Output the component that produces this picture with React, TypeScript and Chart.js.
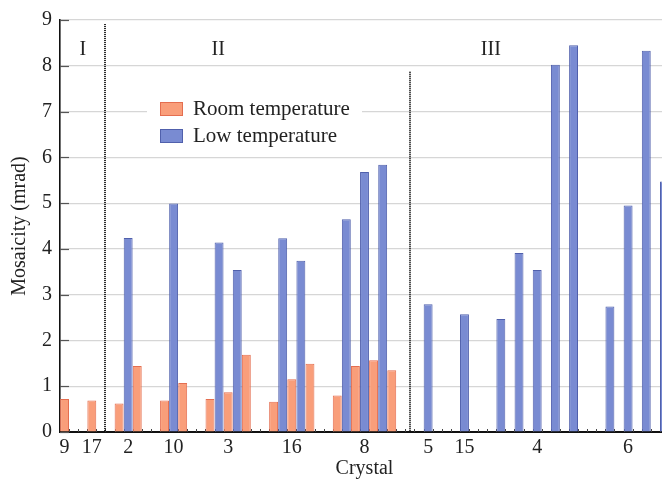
import React, { useEffect, useRef } from 'react';
import { Chart, registerables } from 'chart.js';

Chart.register(...registerables);

const _ = null;

// one slot per bar position along the crystal axis
const slotLabels = [
  '9', '', '', '17', '', '', '', '2', '', '',
  '', '', '10', '', '', '', '', '', '3', '',
  '', '', '', '', '', '16', '', '', '', '',
  '', '', '', '8', '', '', '', '', '', '',
  '5', '', '', '', '15', '', '', '', '', '',
  '', '', '4', '', '', '', '', '', '', '',
  '', '', '6', '', '', '', '',
];

const roomTemperature = [
  0.72, _, _, 0.69, _, _, 0.62, _, 1.44, _,
  _, 0.69, _, 1.07, _, _, 0.72, _, 0.87, _,
  1.69, _, _, 0.66, _, 1.15, _, 1.49, _, _,
  0.80, _, 1.44, _, 1.57, _, 1.35, _, _, _,
  _, _, _, _, _, _, _, _, _, _,
  _, _, _, _, _, _, _, _, _, _,
  _, _, _, _, _, _, _,
];

const lowTemperature = [
  _, _, _, _, _, _, _, 4.24, _, _,
  _, _, 4.99, _, _, _, _, 4.14, _, 3.54,
  _, _, _, _, 4.23, _, 3.74, _, _, _,
  _, 4.65, _, 5.68, _, 5.84, _, _, _, _,
  2.79, _, _, _, 2.57, _, _, _, 2.47, _,
  3.91, _, 3.54, _, 8.02, _, 8.45, _, _, _,
  2.74, _, 4.95, _, 8.33, _, 5.47,
];

const seriesNames = ['Room temperature', 'Low temperature'];
const regionNames = ['I', 'II', 'III'];
const regionCenters = [2, 16.9, 46.9];
const regionLabelValue = 8.35;
const dividerSlots = [4.5, 38];
const dividerTops = [8.91, 7.87];

const FONT = "'Liberation Serif', 'Times New Roman', serif";
const ROOM_FILL = 'rgb(249,158,122)';
const ROOM_BORDER = 'rgb(228,110,80)';
const LOW_FILL = 'rgb(121,139,210)';
const LOW_BORDER = 'rgb(80,96,172)';

const overlayPlugin = {
  id: 'overlay',
  beforeDatasetsDraw(chart: any) {
    const ctx = chart.ctx;
    const x = chart.scales.x;
    const y = chart.scales.y;
    const area = chart.chartArea;
    ctx.save();
    // inner tick marks on y axis
    ctx.strokeStyle = '#555';
    ctx.lineWidth = 1.2;
    y.ticks.forEach((t: any) => {
      const py = Math.round(y.getPixelForValue(t.value)) + 0.5;
      ctx.beginPath();
      ctx.moveTo(area.left, py);
      ctx.lineTo(area.left + 9, py);
      ctx.stroke();
    });
    // small tick marks along the x axis
    ctx.strokeStyle = '#444';
    ctx.lineWidth = 1;
    for (let i = 0; i < slotLabels.length; i++) {
      const px = Math.round(x.getPixelForValue(i + 0.5)) + 0.5;
      ctx.beginPath();
      ctx.moveTo(px, area.bottom);
      ctx.lineTo(px, area.bottom - 3);
      ctx.stroke();
    }
    // dotted region dividers
    ctx.strokeStyle = '#111';
    ctx.lineWidth = 2;
    ctx.setLineDash([1, 1]);
    dividerSlots.forEach((s, i) => {
      const px = Math.round(x.getPixelForValue(s));
      ctx.beginPath();
      ctx.moveTo(px, y.getPixelForValue(dividerTops[i]));
      ctx.lineTo(px, y.getPixelForValue(0));
      ctx.stroke();
    });
    ctx.setLineDash([]);
    // region labels
    ctx.fillStyle = '#222';
    ctx.font = `20px ${FONT}`;
    ctx.textAlign = 'center';
    ctx.textBaseline = 'middle';
    regionNames.forEach((n, i) => {
      ctx.fillText(n, x.getPixelForValue(regionCenters[i]), y.getPixelForValue(regionLabelValue));
    });
    // legend
    ctx.fillStyle = '#fff';
    ctx.fillRect(147, 95, 215, 53);
    const fills = [ROOM_FILL, LOW_FILL];
    const borders = [ROOM_BORDER, LOW_BORDER];
    seriesNames.forEach((name, i) => {
      const by = 102 + i * 27;
      ctx.fillStyle = fills[i];
      ctx.fillRect(160, by, 23, 14);
      ctx.strokeStyle = borders[i];
      ctx.lineWidth = 1;
      ctx.strokeRect(160.5, by + 0.5, 22, 13);
      ctx.fillStyle = '#222';
      ctx.font = `21px ${FONT}`;
      ctx.textAlign = 'left';
      ctx.textBaseline = 'middle';
      ctx.fillText(name, 193, by + 7.5);
    });
    ctx.restore();
  },
};

export default function App() {
  const ref = useRef<HTMLCanvasElement>(null);
  useEffect(() => {
    if (!ref.current) return;
    const chart = new Chart(ref.current, {
      type: 'bar',
      data: {
        labels: slotLabels,
        datasets: [
          {
            label: seriesNames[0],
            data: roomTemperature,
            backgroundColor: ROOM_FILL,
            borderColor: ROOM_BORDER,
            borderWidth: 1,
          },
          {
            label: seriesNames[1],
            data: lowTemperature,
            backgroundColor: LOW_FILL,
            borderColor: LOW_BORDER,
            borderWidth: 1,
          },
        ],
      },
      options: {
        responsive: false,
        animation: false,
        devicePixelRatio: 1,
        layout: { padding: { top: 18, right: 0, bottom: 0, left: 0 } },
        datasets: {
          bar: { grouped: false, categoryPercentage: 1, barPercentage: 0.98 },
        },
        plugins: {
          legend: { display: false },
          tooltip: { enabled: false },
        },
        scales: {
          x: {
            type: 'category',
            offset: true,
            grid: { display: false, drawTicks: false },
            border: { display: true, color: '#111', width: 2 },
            ticks: {
              autoSkip: false,
              maxRotation: 0,
              minRotation: 0,
              padding: 4,
              color: '#222',
              font: { family: FONT, size: 20 },
            },
            title: {
              display: true,
              text: 'Crystal',
              color: '#222',
              font: { family: FONT, size: 20 },
              padding: { top: 0, bottom: 0 },
            },
            afterFit: (s: any) => { s.height = 49; },
          },
          y: {
            min: 0,
            max: 9,
            ticks: {
              stepSize: 1,
              padding: 8,
              color: '#222',
              font: { family: FONT, size: 20 },
            },
            grid: { color: '#d6d6d6', lineWidth: 1.2, drawTicks: false },
            border: { display: true, color: '#111', width: 1.6 },
            title: {
              display: true,
              text: 'Mosaicity (mrad)',
              color: '#222',
              font: { family: FONT, size: 20 },
              padding: { top: 8, bottom: 0 },
            },
            afterFit: (s: any) => { s.width = 60; },
          },
        },
      },
      plugins: [overlayPlugin],
    });
    return () => chart.destroy();
  }, []);
  return (
    <div style={{ position: 'fixed', left: 0, top: 0, width: 662, height: 481, overflow: 'hidden', background: '#fff' }}>
      <canvas ref={ref} width={669} height={481} style={{ width: 669, height: 481, display: 'block' }} />
    </div>
  );
}
